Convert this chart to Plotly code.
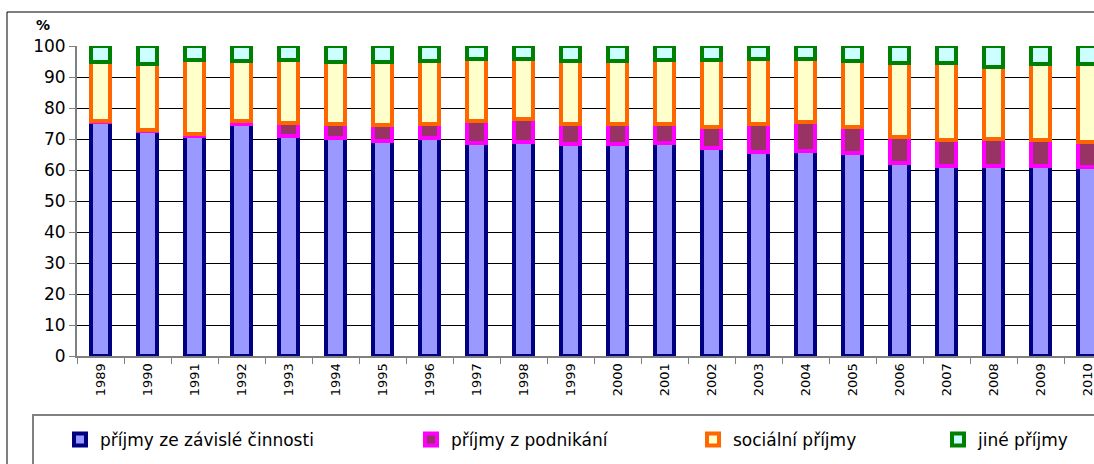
import plotly.graph_objects as go

years = ["1989", "1990", "1991", "1992", "1993", "1994", "1995", "1996", "1997", "1998", "1999",
         "2000", "2001", "2002", "2003", "2004", "2005", "2006", "2007", "2008", "2009", "2010"]
zavisle = [75.5, 72.7, 70.9, 75.0, 71.0, 70.2, 69.5, 70.4, 68.8, 69.1, 68.3,
           68.3, 68.6, 67.2, 65.9, 66.2, 65.4, 62.4, 61.3, 61.3, 61.3, 61.1]
podnikani = [0.3, 0.3, 0.6, 0.8, 4.3, 4.5, 5.0, 4.4, 7.1, 7.2, 6.7,
             6.5, 6.4, 6.8, 9.1, 9.2, 8.6, 8.4, 8.4, 8.6, 8.4, 8.0]
socialni = [18.9, 21.2, 23.9, 19.4, 20.2, 20.1, 20.2, 20.4, 19.8, 19.6, 20.3,
            20.5, 20.4, 21.4, 20.7, 20.5, 21.3, 23.6, 24.7, 23.4, 24.5, 25.1]
jine = [5.3, 5.8, 4.6, 4.8, 4.5, 5.2, 5.3, 4.8, 4.3, 4.1, 4.7,
        4.7, 4.6, 4.6, 4.3, 4.1, 4.7, 5.6, 5.6, 6.7, 5.8, 5.8]
names = ["příjmy ze závislé činnosti", "příjmy z podnikání", "sociální příjmy", "jiné příjmy"]
fills = ["#9999FF", "#993366", "#FFFFCC", "#CCFFFF"]
borders = ["#000080", "#FF00FF", "#FF6600", "#008000"]

OFF = 0  # body margin removed via post_script
W, H = 1094, 464
PLOT_L, PLOT_T, PLOT_B = 77, 46, 356      # screen pixels
ML = PLOT_L - OFF
MT = PLOT_T - OFF
MB = H - (PLOT_B - OFF)
MR = 0
PW = W - ML - MR
PH = H - MT - MB
CAT = 47.0

def px(x):
    return (x - OFF - ML) / PW

def py(y):
    return (H - MB - (y - OFF)) / PH

FONT = "DejaVu Sans"
fig = go.Figure()
series = [zavisle, podnikani, socialni, jine]
legends = ["legend", "legend2", "legend3", "legend4"]
for vals, nm, fc, bc, lg in zip(series, names, fills, borders, legends):
    fig.add_trace(go.Bar(
        x=years, y=vals, name=nm, legend=lg, width=0.4,
        marker=dict(color=fc, line=dict(color=bc, width=4)),
    ))

xr_end = -0.5 + PW / CAT
text_x = [100, 451, 733, 978]
leg_common = dict(orientation="h", xanchor="left", yanchor="middle",
                  bgcolor="rgba(0,0,0,0)", borderwidth=0,
                  font=dict(family=FONT, size=17, color="#000000"))
layout_leg = {}
for lg, tx in zip(legends, text_x):
    layout_leg[lg] = dict(x=px(tx - 40), y=py(440), **leg_common)

fig.update_layout(
    width=W, height=H,
    margin=dict(l=ML, r=MR, t=MT, b=MB, autoexpand=False),
    barmode="stack",
    plot_bgcolor="#FFFFFF", paper_bgcolor="#FFFFFF",
    font=dict(family=FONT, color="#000000"),
    showlegend=True,
    xaxis=dict(type="category", range=[-0.5, xr_end], tickson="boundaries",
               ticks="outside", ticklen=6, tickcolor="#808080", tickwidth=1,
               showline=True, linecolor="#808080", linewidth=2,
               showgrid=False, tickangle=-90, automargin=False,
               ticklabeloverflow="allow",
               tickfont=dict(family=FONT, size=13, color="#000000")),
    yaxis=dict(range=[0, 100], dtick=10, ticks="outside", ticklen=6,
               tickcolor="#808080", tickwidth=1, automargin=False,
               showline=True, linecolor="#808080", linewidth=2,
               showgrid=True, gridcolor="#000000", gridwidth=1, zeroline=False,
               tickfont=dict(family=FONT, size=17, color="#000000")),
    annotations=[dict(text="<b>%</b>", xref="paper", yref="paper", x=px(43), y=py(25),
                      showarrow=False, xanchor="center", yanchor="middle",
                      font=dict(family=FONT, size=14, color="#000000"))],
    shapes=[
        dict(type="line", xref="paper", yref="paper", x0=px(7), y0=py(12), x1=px(1110), y1=py(12),
             line=dict(color="#000000", width=1)),
        dict(type="line", xref="paper", yref="paper", x0=px(7), y0=py(12), x1=px(7), y1=py(480),
             line=dict(color="#000000", width=1)),
        dict(type="rect", xref="paper", yref="paper", x0=px(33), y0=py(415), x1=px(1120), y1=py(490),
             line=dict(color="#808080", width=2)),
    ],
    **layout_leg,
)

fig.write_html("out.html", config={"displayModeBar": False},
               post_script="document.body.style.margin='0';document.body.style.overflow='hidden';")
